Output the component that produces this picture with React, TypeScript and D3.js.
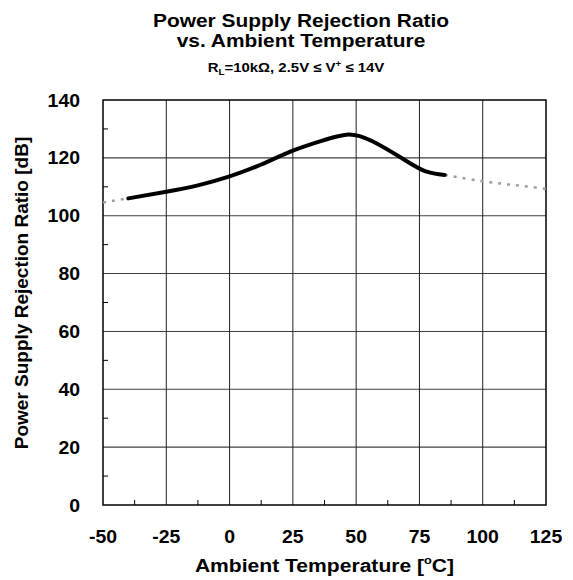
import React from 'react';
import * as d3 from 'd3';

// PSRR vs temperature
const solidTemps = [-40, -25, -12.5, 0, 12.5, 25, 37.5, 47, 56.25, 68.75, 77.5, 85];
const solidPsrr = [106.0, 108.3, 110.5, 113.6, 117.7, 122.5, 126.2, 128.1, 125.8, 119.5, 115.3, 114.1];
const lowTemps = [-50, -40];
const lowPsrr = [104.6, 106.0];
const highTemps = [85, 100, 112.5, 125];
const highPsrr = [114.1, 111.9, 110.6, 109.3];

const xTicks = [-50, -25, 0, 25, 50, 75, 100, 125];
const yTicks = [0, 20, 40, 60, 80, 100, 120, 140];

const W = 573;
const H = 580;
const margin = { top: 100, right: 27, bottom: 75, left: 103 };
const FONT = '"Liberation Sans", Arial, sans-serif';

// text slightly stretched sideways, the reference glyphs are wider than Liberation at same height
const T: React.FC<{ x: number; y: number; size: number; sx?: number; anchor?: string; children: React.ReactNode }> =
  ({ x, y, size, sx = 1.1, anchor = 'middle', children }) => (
    <text transform={`translate(${x},${y}) scale(${sx},1)`} textAnchor={anchor} fontSize={size}>{children}</text>
  );

const App: React.FC = () => {
  const x = d3.scaleLinear().domain([-50, 125]).range([margin.left, W - margin.right]);
  const y = d3.scaleLinear().domain([0, 140]).range([H - margin.bottom, margin.top]);

  const line = d3.line<[number, number]>()
    .x(d => x(d[0]))
    .y(d => y(d[1]))
    .curve(d3.curveNatural);

  const zip = (a: number[], b: number[]) => a.map((t, i) => [t, b[i]] as [number, number]);

  const xMinor = d3.range(-37.5, 125, 25);
  const yMinor = d3.range(10, 140, 20);
  const x0 = x(-50), x1 = x(125), y0 = y(0), y1 = y(140);

  return (
    <svg width={W} height={H} style={{ position: 'absolute', left: 0, top: 0, background: '#fff' }}
      fontFamily={FONT} fontWeight="bold">
      <T x={301} y={27} size={19} sx={1.1}>Power Supply Rejection Ratio</T>
      <T x={301} y={47} size={19} sx={1.1}>vs. Ambient Temperature</T>
      <T x={296} y={72} size={13} sx={1.15}>
        R<tspan fontSize={8.5} dy={3}>L</tspan>
        <tspan dy={-3}>=10kΩ, 2.5V ≤ V</tspan>
        <tspan fontSize={8.5} dy={-5}>+</tspan>
        <tspan dy={5}> ≤ 14V</tspan>
      </T>

      {/* grid */}
      {yTicks.slice(1, -1).map(t => (
        <line key={'gy' + t} x1={x0} x2={x1} y1={y(t)} y2={y(t)} stroke="#404040" strokeWidth={1.1} />
      ))}
      {xTicks.slice(1, -1).map(t => (
        <line key={'gx' + t} x1={x(t)} x2={x(t)} y1={y0} y2={y1} stroke="#202020" strokeWidth={1} />
      ))}
      {/* minor ticks */}
      {xMinor.map(t => (
        <line key={'mx' + t} x1={x(t)} x2={x(t)} y1={y0} y2={y0 - 5} stroke="#000" strokeWidth={1} />
      ))}
      {yMinor.map(t => (
        <line key={'my' + t} x1={x0} x2={x0 + 5} y1={y(t)} y2={y(t)} stroke="#000" strokeWidth={1} />
      ))}
      <rect x={x0} y={y1} width={x1 - x0} height={y0 - y1} fill="none" stroke="#000" strokeWidth={1.5} />

      {/* curves */}
      <path d={line(zip(lowTemps, lowPsrr)) || ''} fill="none" stroke="#a0a0a0" strokeWidth={2.5} strokeDasharray="3,6" />
      <path d={line(zip(highTemps, highPsrr)) || ''} fill="none" stroke="#a0a0a0" strokeWidth={2.5} strokeDasharray="3,6" />
      <path d={line(zip(solidTemps, solidPsrr)) || ''} fill="none" stroke="#000" strokeWidth={4} strokeLinecap="round" />

      {/* tick labels */}
      {yTicks.map(t => (
        <T key={'ly' + t} x={80} y={y(t) + 6.5} size={18} sx={1.08} anchor="end">{t}</T>
      ))}
      {xTicks.map(t => (
        <T key={'lx' + t} x={x(t)} y={543} size={18} sx={1.08}>{t}</T>
      ))}

      <T x={(x0 + x1) / 2} y={572} size={19} sx={1.11}>
        Ambient Temperature [<tspan fontSize={11.5} dy={-8}>o</tspan><tspan dy={8}>C]</tspan>
      </T>
      <text transform={`translate(28,${293}) rotate(-90)`} textAnchor="middle" fontSize={19}>
        Power Supply Rejection Ratio [dB]
      </text>
    </svg>
  );
};

export default App;
